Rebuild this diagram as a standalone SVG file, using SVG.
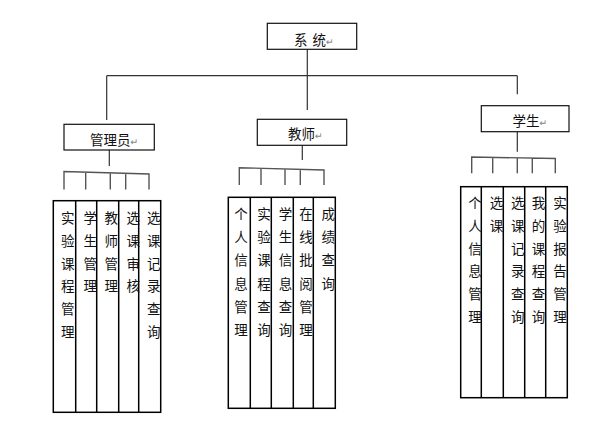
<svg xmlns="http://www.w3.org/2000/svg" width="614" height="446" viewBox="0 0 614 446">
<style>
.bg{fill:#fff}
.box{fill:#fff;stroke:#111;stroke-width:1.2}
.col{fill:none;stroke:#000;stroke-width:1.5}
.ln{fill:none;stroke:#333;stroke-width:1.2}
.br{fill:none;stroke:#555;stroke-width:1.4}
.t{font-family:"Noto Sans CJK SC","Noto Sans",sans-serif;font-size:13.5px;fill:#111}
.v{font-family:"Noto Sans CJK SC","Noto Sans",sans-serif;font-size:13.5px;fill:#111;text-anchor:middle}
.pm{font-family:"DejaVu Sans",sans-serif;font-size:9.5px;fill:#888}
</style>
<rect class="bg" x="0" y="0" width="614" height="446"/>
<g id="connectors">
<path class="ln" d="M307.3,49.3 V110 M106.7,75.7 H517.3 M106.7,75.7 V120 M517.3,75.7 V94.3"/>
<path class="ln" d="M109.3,150 V166 M302.3,145.3 V160 M517.3,131.7 V151.7"/>
<path class="br" d="M64,189.5 V171.5 L149,174 V189.5 M85.7,171.8 V189.5 M110.3,172.5 V189.5 M125.7,172.8 V189.5"/>
<path class="br" d="M239.3,185 V167.7 L324,170 V185 M261,168.3 V185 M285,169 V185 M300.3,169.3 V185"/>
<path class="br" d="M471.7,173.3 V157 L555.3,158.5 V173.3 M492.7,157.4 V173.3 M517.3,157.8 V173.3 M532.3,158.1 V173.3"/>
</g>
<g id="node-system">
<rect class="box" x="267.3" y="23.3" width="89.4" height="26"/>
<text class="t" x="294" y="45">系<tspan dx="5">统</tspan><tspan class="pm" dx="0">↵</tspan></text>
</g>
<g id="node-admin">
<rect class="box" x="64" y="124.3" width="90.3" height="25.7"/>
<text class="t" x="90" y="145">管理员<tspan class="pm" dx="0">↵</tspan></text>
</g>
<g id="node-teacher">
<rect class="box" x="257.3" y="119.3" width="89.4" height="26"/>
<text class="t" x="288" y="139">教师<tspan class="pm" dx="0">↵</tspan></text>
</g>
<g id="node-student">
<rect class="box" x="481.3" y="105.7" width="87.7" height="26"/>
<text class="t" x="512.5" y="126">学生<tspan class="pm" dx="0">↵</tspan></text>
</g>
<g id="admin-functions">
<rect class="col" x="53.3" y="200.7" width="107.4" height="211.6"/>
<path class="col" d="M75.7,200.7 V412.3 M96.7,200.7 V412.3 M118.7,200.7 V412.3 M138.7,200.7 V412.3"/>
<g id="admin-f1"><text class="v" x="67.8" y="223.3"><tspan x="67.8">实</tspan><tspan x="67.8" dy="22.7">验</tspan><tspan x="67.8" dy="22.7">课</tspan><tspan x="67.8" dy="22.7">程</tspan><tspan x="67.8" dy="22.7">管</tspan><tspan x="67.8" dy="22.7">理</tspan></text></g>
<g id="admin-f2"><text class="v" x="90.2" y="223.3"><tspan x="90.2">学</tspan><tspan x="90.2" dy="22.7">生</tspan><tspan x="90.2" dy="22.7">管</tspan><tspan x="90.2" dy="22.7">理</tspan></text></g>
<g id="admin-f3"><text class="v" x="111.2" y="223.3"><tspan x="111.2">教</tspan><tspan x="111.2" dy="22.7">师</tspan><tspan x="111.2" dy="22.7">管</tspan><tspan x="111.2" dy="22.7">理</tspan></text></g>
<g id="admin-f4"><text class="v" x="133.2" y="223.3"><tspan x="133.2">选</tspan><tspan x="133.2" dy="22.7">课</tspan><tspan x="133.2" dy="22.7">审</tspan><tspan x="133.2" dy="22.7">核</tspan></text></g>
<g id="admin-f5"><text class="v" x="153.7" y="223.3"><tspan x="153.7">选</tspan><tspan x="153.7" dy="22.7">课</tspan><tspan x="153.7" dy="22.7">记</tspan><tspan x="153.7" dy="22.7">录</tspan><tspan x="153.7" dy="22.7">查</tspan><tspan x="153.7" dy="22.7">询</tspan></text></g>
</g>
<g id="teacher-functions">
<rect class="col" x="228.3" y="197.3" width="107" height="211"/>
<path class="col" d="M250.3,197.3 V408.3 M271.3,197.3 V408.3 M293.3,197.3 V408.3 M313.3,197.3 V408.3"/>
<g id="teacher-f1"><text class="v" x="241" y="219"><tspan x="241">个</tspan><tspan x="241" dy="23.2">人</tspan><tspan x="241" dy="23.2">信</tspan><tspan x="241" dy="23.2">息</tspan><tspan x="241" dy="23.2">管</tspan><tspan x="241" dy="23.2">理</tspan></text></g>
<g id="teacher-f2"><text class="v" x="264" y="219"><tspan x="264">实</tspan><tspan x="264" dy="23.2">验</tspan><tspan x="264" dy="23.2">课</tspan><tspan x="264" dy="23.2">程</tspan><tspan x="264" dy="23.2">查</tspan><tspan x="264" dy="23.2">询</tspan></text></g>
<g id="teacher-f3"><text class="v" x="285.5" y="219"><tspan x="285.5">学</tspan><tspan x="285.5" dy="23.2">生</tspan><tspan x="285.5" dy="23.2">信</tspan><tspan x="285.5" dy="23.2">息</tspan><tspan x="285.5" dy="23.2">查</tspan><tspan x="285.5" dy="23.2">询</tspan></text></g>
<g id="teacher-f4"><text class="v" x="306" y="219"><tspan x="306">在</tspan><tspan x="306" dy="23.2">线</tspan><tspan x="306" dy="23.2">批</tspan><tspan x="306" dy="23.2">阅</tspan><tspan x="306" dy="23.2">管</tspan><tspan x="306" dy="23.2">理</tspan></text></g>
<g id="teacher-f5"><text class="v" x="328.3" y="219"><tspan x="328.3">成</tspan><tspan x="328.3" dy="23.2">绩</tspan><tspan x="328.3" dy="23.2">查</tspan><tspan x="328.3" dy="23.2">询</tspan></text></g>
</g>
<g id="student-functions">
<rect class="col" x="460.7" y="186.7" width="106.6" height="211"/>
<path class="col" d="M481.3,186.7 V397.7 M503.3,186.7 V397.7 M524.7,186.7 V397.7 M545.7,186.7 V397.7"/>
<g id="student-f1"><text class="v" x="475" y="208.3"><tspan x="475">个</tspan><tspan x="475" dy="22.7">人</tspan><tspan x="475" dy="22.7">信</tspan><tspan x="475" dy="22.7">息</tspan><tspan x="475" dy="22.7">管</tspan><tspan x="475" dy="22.7">理</tspan></text></g>
<g id="student-f2"><text class="v" x="496.5" y="208.3"><tspan x="496.5">选</tspan><tspan x="496.5" dy="22.7">课</tspan></text></g>
<g id="student-f3"><text class="v" x="517.7" y="208.3"><tspan x="517.7">选</tspan><tspan x="517.7" dy="22.7">课</tspan><tspan x="517.7" dy="22.7">记</tspan><tspan x="517.7" dy="22.7">录</tspan><tspan x="517.7" dy="22.7">查</tspan><tspan x="517.7" dy="22.7">询</tspan></text></g>
<g id="student-f4"><text class="v" x="538.5" y="208.3"><tspan x="538.5">我</tspan><tspan x="538.5" dy="22.7">的</tspan><tspan x="538.5" dy="22.7">课</tspan><tspan x="538.5" dy="22.7">程</tspan><tspan x="538.5" dy="22.7">查</tspan><tspan x="538.5" dy="22.7">询</tspan></text></g>
<g id="student-f5"><text class="v" x="560" y="208.3"><tspan x="560">实</tspan><tspan x="560" dy="22.7">验</tspan><tspan x="560" dy="22.7">报</tspan><tspan x="560" dy="22.7">告</tspan><tspan x="560" dy="22.7">管</tspan><tspan x="560" dy="22.7">理</tspan></text></g>
</g>
</svg>
